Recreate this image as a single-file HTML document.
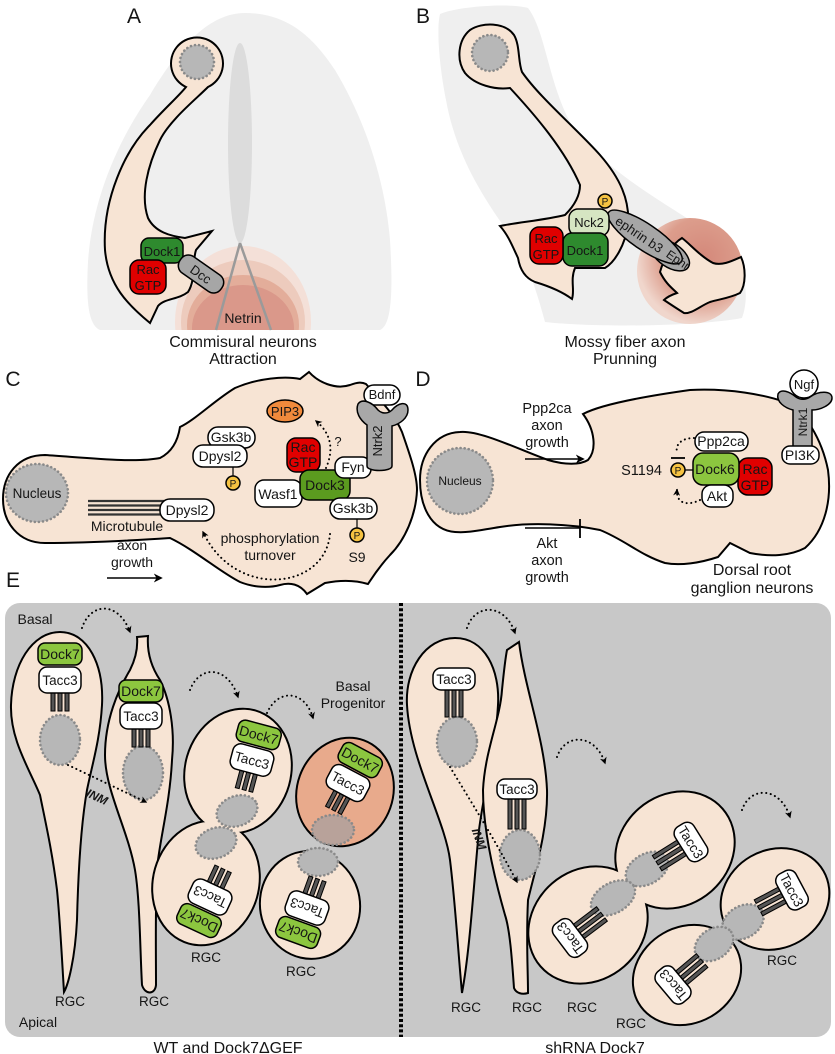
<!DOCTYPE html>
<html><head><meta charset="utf-8"><style>
html,body{margin:0;padding:0;background:#fff}
svg{display:block}
text{font-family:"Liberation Sans",Arial,sans-serif;text-anchor:middle;fill:#151515}
.cell{fill:#f7e4d4;stroke:#000;stroke-width:2}
.nuc{fill:#b7b7b7;stroke:#8a8a8a;stroke-width:2.6;stroke-dasharray:0.1 4;stroke-linecap:round}
.pb{stroke:#000;stroke-width:1.5}
.dot{fill:none;stroke:#000;stroke-width:2;stroke-dasharray:0.1 4.5;stroke-linecap:round}
.bar{fill:#555;stroke:#000;stroke-width:1}
</style></head><body>
<svg width="835" height="1054" viewBox="0 0 835 1054" xmlns="http://www.w3.org/2000/svg">
<defs>
<marker id="ah" viewBox="0 0 10 10" refX="8" refY="5" markerWidth="7" markerHeight="7" orient="auto" markerUnits="userSpaceOnUse">
<path d="M0,0 L10,5 L0,10 L3,5 Z" fill="#000"/></marker>
<marker id="ah2" viewBox="0 0 10 10" refX="8" refY="5" markerWidth="9" markerHeight="9" orient="auto" markerUnits="userSpaceOnUse">
<path d="M0,0 L10,5 L0,10 L3,5 Z" fill="#000"/></marker>
<clipPath id="clA"><rect x="80" y="180" width="330" height="150"/></clipPath>
<radialGradient id="gB" cx="0.62" cy="0.38" r="0.62">
<stop offset="0" stop-color="#d4887a"/><stop offset="0.62" stop-color="#dc9d8c"/><stop offset="1" stop-color="#f0d6cc"/></radialGradient>
</defs>
<rect width="835" height="1054" fill="#fff"/>

<!-- ================= PANEL A ================= -->
<text x="134" y="23" font-size="21">A</text>
<path d="M100,330 C88,325 86,300 88,262 C92,200 118,140 150,95 C180,45 210,13 245,13 C290,13 315,40 335,70 C365,120 385,180 390,240 C393,290 392,325 380,330 Z" fill="#efefef"/>
<ellipse cx="240" cy="143" rx="12" ry="100" fill="#dcdcdc"/>
<g clip-path="url(#clA)">
<ellipse cx="243" cy="322" rx="68" ry="76" fill="#f4e0d8"/>
<ellipse cx="243" cy="322" rx="62" ry="62" fill="#edcbbd"/>
<ellipse cx="243" cy="325" rx="56" ry="50" fill="#e3ad9a"/>
<ellipse cx="243" cy="328" rx="51" ry="43" fill="#da988a"/>
</g>
<line x1="240" y1="243" x2="216" y2="330" stroke="#9a9a9a" stroke-width="2.5"/>
<line x1="240" y1="243" x2="271" y2="330" stroke="#9a9a9a" stroke-width="2.5"/>
<text x="243" y="323" font-size="14">Netrin</text>
<path class="cell" d="M186,87 A26 26 0 1 1 208,87 C195,100 170,120 160,140 C148,165 140,195 148,218 C155,232 170,236 185,238 L212,231 L196,250 C192,262 196,280 188,292 C178,300 165,298 158,306 L150,323 C128,305 108,285 105,250 C102,200 125,150 150,125 C165,108 178,97 186,87 Z"/>
<circle class="nuc" cx="197" cy="62" r="17"/>
<rect class="pb" x="141" y="238" width="42" height="25" rx="8" fill="#2e8a2e"/>
<text x="162" y="256" font-size="13">Dock1</text>
<rect class="pb" x="130" y="260" width="36" height="34" rx="9" fill="#e00000"/>
<text x="148" y="274" font-size="13">Rac</text><text x="148" y="290" font-size="13">GTP</text>
<g transform="translate(201,274) rotate(35)">
<rect class="pb" x="-25" y="-10" width="50" height="20" rx="9" fill="#a6a6a6"/>
<text x="0" y="5" font-size="13">Dcc</text></g>
<text x="243" y="347" font-size="16">Commisural neurons</text>
<text x="243" y="364" font-size="16">Attraction</text>

<!-- ================= PANEL B ================= -->
<text x="423" y="23" font-size="21">B</text>
<path d="M440,14 C460,6 510,3 528,8 C545,30 548,80 570,122 C600,168 660,200 715,236 C742,256 752,290 742,318 C700,326 600,328 545,322 C535,285 525,255 505,228 C478,190 455,150 446,100 C440,70 436,30 440,14 Z" fill="#efefef"/>
<circle cx="690" cy="271" r="53" fill="url(#gB)"/>
<path class="cell" stroke-width="1.8" d="M660,272 C664,258 672,244 682,238 C690,244 700,256 713,263 C722,266 732,261 741,257 C746,268 746,285 740,293 C730,298 720,299 710,302 C700,306 692,314 684,313 C676,308 670,304 664,300 C668,296 674,294 677,293 C672,288 666,284 660,272 Z"/>
<path class="cell" d="M510,88 C495,90 475,85 465,73 C456,60 458,40 470,30 C482,22 505,22 514,35 C520,45 518,62 522,72 C540,98 578,130 600,155 C620,178 630,200 628,225 C625,245 615,262 605,268 L575,268 C570,280 575,290 572,299 C560,290 545,285 535,282 C525,278 520,270 518,258 C512,245 508,235 500,226 C520,222 545,220 565,215 C575,205 580,195 580,185 C565,150 535,115 510,88 Z"/>
<circle class="nuc" cx="490" cy="53" r="18"/>
<ellipse class="pb" cx="670" cy="255" rx="22" ry="12" transform="rotate(34 670 255)" fill="#a6a6a6"/>
<ellipse class="pb" cx="645" cy="237" rx="44" ry="13" transform="rotate(34 645 237)" fill="#a6a6a6"/>
<text x="639" y="239" font-size="13" transform="rotate(34 639 235)">ephrin b3</text>
<text x="678" y="264" font-size="12" transform="rotate(34 678 260)">Ephr</text>
<rect class="pb" x="569" y="209" width="40" height="27" rx="9" fill="#d6e5c2"/>
<text x="589" y="227" font-size="13">Nck2</text>
<circle class="pb" cx="605" cy="201" r="7" fill="#f5c242" stroke-width="1.2"/>
<text x="605" y="205" font-size="10">P</text>
<rect class="pb" x="563" y="233" width="45" height="33" rx="9" fill="#2e8a2e"/>
<text x="585" y="255" font-size="13">Dock1</text>
<rect class="pb" x="530" y="227" width="33" height="37" rx="9" fill="#e00000"/>
<text x="546" y="243" font-size="13">Rac</text><text x="546" y="259" font-size="13">GTP</text>
<text x="625" y="347" font-size="16">Mossy fiber axon</text>
<text x="625" y="364" font-size="16">Prunning</text>

<!-- ================= PANEL C ================= -->
<text x="13" y="386" font-size="21">C</text>
<path class="cell" d="M45,455 C90,458 135,463 160,458 C172,452 178,440 180,427 C195,420 215,400 235,388 C258,378 285,376 300,379 L309,372 C318,382 335,390 350,385 C358,382 362,382 366,384 C380,400 395,415 402,432 C410,455 417,475 417,490 C416,515 405,540 390,555 C378,568 372,578 368,584 C355,580 340,580 325,583 L307,594 C300,584 290,582 280,585 C265,589 250,586 240,582 C220,572 195,550 170,538 C140,540 90,543 45,543 C18,543 3,522 3,499 C3,475 18,455 45,455 Z"/>
<ellipse class="nuc" cx="37" cy="493" rx="31" ry="29"/>
<text x="37" y="498" font-size="13.5">Nucleus</text>
<g stroke="#333" stroke-width="2.2">
<line x1="88" y1="501" x2="168" y2="501"/><line x1="88" y1="505.5" x2="168" y2="505.5"/>
<line x1="88" y1="510" x2="168" y2="510"/><line x1="88" y1="514.5" x2="168" y2="514.5"/></g>
<rect class="pb" x="160" y="499" width="54" height="22" rx="10" fill="#fff"/>
<text x="187" y="515" font-size="14">Dpysl2</text>
<text x="127" y="531" font-size="14">Microtubule</text>
<text x="132" y="550" font-size="14">axon</text>
<text x="132" y="567" font-size="14">growth</text>
<line x1="107" y1="578" x2="161" y2="578" stroke="#000" stroke-width="1.6" marker-end="url(#ah2)"/>
<rect class="pb" x="208" y="427" width="47" height="21" rx="10" fill="#fff"/>
<text x="231" y="442" font-size="14">Gsk3b</text>
<rect class="pb" x="193" y="445" width="54" height="22" rx="10" fill="#fff"/>
<text x="220" y="461" font-size="14">Dpysl2</text>
<line x1="233" y1="467" x2="233" y2="477" stroke="#000" stroke-width="1.2"/>
<circle class="pb" cx="233" cy="483" r="7" fill="#f5c242" stroke-width="1.2"/>
<text x="233" y="487" font-size="10">P</text>
<ellipse class="pb" cx="285" cy="411" rx="18" ry="11" fill="#f08a3c"/>
<text x="285" y="416" font-size="13">PIP3</text>
<path class="dot" d="M326,468 C333,452 333,435 316,421" marker-end="url(#ah)"/>
<text x="338" y="446" font-size="13">?</text>
<rect class="pb" x="255" y="480" width="47" height="27" rx="9" fill="#fff"/>
<text x="278" y="499" font-size="14">Wasf1</text>
<rect class="pb" x="287" y="438" width="33" height="34" rx="9" fill="#e00000"/>
<text x="303" y="452" font-size="14">Rac</text><text x="303" y="467" font-size="14">GTP</text>
<rect class="pb" x="300" y="470" width="50" height="30" rx="9" fill="#5b9b1f"/>
<text x="325" y="490" font-size="14">Dock3</text>
<rect class="pb" x="335" y="457" width="36" height="21" rx="9" fill="#fff"/>
<text x="353" y="472" font-size="14">Fyn</text>
<rect class="pb" x="364" y="385" width="36" height="20" rx="10" fill="#fff"/>
<text x="382" y="399" font-size="13">Bdnf</text>
<path class="pb" fill="#a8a8a8" d="M367,466 L367,425 C360,420 355,412 358,404 C362,398 372,402 378,410 C382,414 388,414 392,410 C398,403 408,400 408,410 C408,418 400,424 392,426 L392,466 C392,472 367,472 367,466 Z"/>
<text x="384" y="447" font-size="13" transform="rotate(-90 380 445)">Ntrk2</text>
<rect class="pb" x="330" y="498" width="47" height="21" rx="10" fill="#fff"/>
<text x="353" y="513" font-size="14">Gsk3b</text>
<line x1="357" y1="519" x2="357" y2="528" stroke="#000" stroke-width="1.2"/>
<circle class="pb" cx="357" cy="535" r="7" fill="#f5c242" stroke-width="1.2"/>
<text x="357" y="539" font-size="10">P</text>
<text x="357" y="562" font-size="14">S9</text>
<text x="270" y="543" font-size="14">phosphorylation</text>
<text x="270" y="560" font-size="14">turnover</text>
<path class="dot" d="M330,534 C325,590 235,600 203,532" marker-end="url(#ah)"/>

<!-- ================= PANEL D ================= -->
<text x="423" y="386" font-size="21">D</text>
<path class="cell" d="M460,432 C480,430 520,450 548,460 C565,465 580,465 588,460 C597,450 595,430 583,414 C600,405 640,397 690,390 C730,388 765,395 785,402 C805,410 822,440 828,470 C832,500 825,530 805,548 C790,556 770,557 750,553 L730,543 L718,557 C700,563 680,566 665,563 C640,555 625,540 600,530 C570,524 530,522 500,527 C480,530 470,533 455,532 C430,530 420,505 420,480 C420,455 435,433 460,432 Z"/>
<circle class="nuc" cx="460" cy="481" r="33"/>
<text x="460" y="485" font-size="12">Nucleus</text>
<text x="547" y="413" font-size="14.5">Ppp2ca</text>
<text x="547" y="430" font-size="14.5">axon</text>
<text x="547" y="447" font-size="14.5">growth</text>
<line x1="525" y1="459" x2="583" y2="459" stroke="#000" stroke-width="1.6" marker-end="url(#ah2)"/>
<line x1="525" y1="528" x2="580" y2="528" stroke="#000" stroke-width="1.6"/>
<line x1="580" y1="519" x2="580" y2="538" stroke="#000" stroke-width="1.8"/>
<text x="547" y="548" font-size="14.5">Akt</text>
<text x="547" y="565" font-size="14.5">axon</text>
<text x="547" y="582" font-size="14.5">growth</text>
<text x="662" y="475" font-size="14.5" style="text-anchor:end">S1194</text>
<path class="dot" d="M694,438 C682,438 675,444 677,453"/>
<line x1="671" y1="458" x2="685" y2="458" stroke="#000" stroke-width="1.8"/>
<path class="dot" d="M700,500 C688,506 676,504 677,490" marker-end="url(#ah)"/>
<line x1="685" y1="470" x2="694" y2="470" stroke="#000" stroke-width="1.3"/>
<circle class="pb" cx="678" cy="470" r="7" fill="#f5c242" stroke-width="1.2"/>
<text x="678" y="474" font-size="10">P</text>
<rect class="pb" x="695" y="432" width="53" height="19" rx="9" fill="#fff"/>
<text x="721" y="446" font-size="14">Ppp2ca</text>
<rect class="pb" x="738" y="458" width="34" height="37" rx="10" fill="#e00000"/>
<text x="755" y="474" font-size="14">Rac</text><text x="755" y="490" font-size="14">GTP</text>
<rect class="pb" x="693" y="453" width="46" height="32" rx="10" fill="#8cc63f"/>
<text x="715" y="474" font-size="14">Dock6</text>
<rect class="pb" x="702" y="485" width="31" height="22" rx="9" fill="#fff"/>
<text x="717" y="501" font-size="14">Akt</text>
<circle class="pb" cx="804" cy="384" r="14" fill="#fff"/>
<text x="804" y="389" font-size="13">Ngf</text>
<path class="pb" fill="#a8a8a8" d="M793,448 L793,410 C785,408 776,402 778,394 C781,388 790,392 796,397 C800,400 806,400 810,397 C818,391 832,390 832,398 C832,405 820,410 812,410 L812,448 Z"/>
<text x="807" y="430" font-size="12" transform="rotate(-90 803 426)">Ntrk1</text>
<rect class="pb" x="782" y="446" width="37" height="18" rx="8" fill="#fff"/>
<text x="800" y="460" font-size="14">PI3K</text>
<text x="752" y="575" font-size="16">Dorsal root</text>
<text x="752" y="593" font-size="16">ganglion neurons</text>

<!-- ================= PANEL E ================= -->
<text x="13" y="587" font-size="21">E</text>
<rect x="5" y="603" width="826" height="434" rx="15" fill="#c8c8c8"/>
<line x1="401" y1="603" x2="401" y2="1037" stroke="#000" stroke-width="4" stroke-dasharray="3 2.2"/>
<text x="35" y="624" font-size="14">Basal</text>
<text x="38" y="1027" font-size="14">Apical</text>

<!-- left cell 1 -->
<path class="cell" d="M60,632 C88,632 104,665 102,705 C100,740 92,765 87,790 C80,830 78,880 77,920 C75,960 68,985 64,992 C62,960 60,920 57,890 C52,850 45,820 40,795 C30,770 10,740 11,705 C12,665 32,632 60,632 Z"/>
<ellipse class="nuc" cx="60" cy="740" rx="20" ry="25"/>
<g transform="translate(60,680)">
<g class="bar"><rect x="-9" y="13" width="4" height="18"/><rect x="-2" y="13" width="4" height="18"/><rect x="5" y="13" width="4" height="18"/></g>
<rect class="pb" x="-22" y="-37" width="44" height="22" rx="7" fill="#8cc63f"/><text x="0" y="-21" font-size="14">Dock7</text>
<rect class="pb" x="-21" y="-13" width="42" height="26" rx="8" fill="#fff"/><text x="0" y="5" font-size="13.5">Tacc3</text></g>

<!-- left cell 2 -->
<path class="cell" d="M137,637 L148,636 C147,650 150,665 160,680 C170,700 175,730 172,760 C170,800 162,830 158,860 C155,900 156,950 156,985 C155,995 145,995 142,985 C140,950 140,900 135,870 C128,830 105,790 105,755 C105,720 118,690 130,670 C136,658 138,648 137,637 Z"/>
<ellipse class="nuc" cx="143" cy="773" rx="20" ry="27"/>
<g transform="translate(141,716)">
<g class="bar"><rect x="-9" y="13" width="4" height="18"/><rect x="-2" y="13" width="4" height="18"/><rect x="5" y="13" width="4" height="18"/></g>
<rect class="pb" x="-22" y="-36" width="44" height="22" rx="7" fill="#8cc63f"/><text x="0" y="-20" font-size="14">Dock7</text>
<rect class="pb" x="-21" y="-13" width="42" height="26" rx="8" fill="#fff"/><text x="0" y="5" font-size="13.5">Tacc3</text></g>
<path class="dot" d="M68,765 L146,802" marker-end="url(#ah)"/>
<text x="97" y="801" font-size="12" font-weight="bold" font-style="italic" transform="rotate(25 97 797)">INM</text>
<path class="dot" d="M82,628 C90,603 118,600 130,632" marker-end="url(#ah)"/>

<!-- left dividing cell -->
<ellipse cx="238" cy="771" rx="52" ry="62" transform="rotate(16 238 771)" fill="none" stroke="#000" stroke-width="4"/>
<ellipse cx="206" cy="883" rx="52" ry="62" transform="rotate(16 206 883)" fill="none" stroke="#000" stroke-width="4"/>
<ellipse cx="238" cy="771" rx="52" ry="62" transform="rotate(16 238 771)" fill="#f7e4d4"/>
<ellipse cx="206" cy="883" rx="52" ry="62" transform="rotate(16 206 883)" fill="#f7e4d4"/>
<ellipse class="nuc" cx="237" cy="811" rx="21" ry="15" transform="rotate(-20 237 811)"/>
<ellipse class="nuc" cx="216" cy="843" rx="21" ry="15" transform="rotate(-20 216 843)"/>
<g transform="translate(252,760) rotate(15)">
<g class="bar"><rect x="-9" y="13" width="4" height="18"/><rect x="-2" y="13" width="4" height="18"/><rect x="5" y="13" width="4" height="18"/></g>
<rect class="pb" x="-22" y="-37" width="44" height="22" rx="7" fill="#8cc63f"/><text x="0" y="-21" font-size="14">Dock7</text>
<rect class="pb" x="-21" y="-13" width="42" height="26" rx="8" fill="#fff"/><text x="0" y="5" font-size="13.5">Tacc3</text></g>
<g transform="translate(210,897) rotate(205)">
<g class="bar"><rect x="-9" y="13" width="4" height="18"/><rect x="-2" y="13" width="4" height="18"/><rect x="5" y="13" width="4" height="18"/></g>
<rect class="pb" x="-22" y="-37" width="44" height="22" rx="7" fill="#8cc63f"/><text x="0" y="-21" font-size="14">Dock7</text>
<rect class="pb" x="-21" y="-13" width="42" height="26" rx="8" fill="#fff"/><text x="0" y="5" font-size="13.5">Tacc3</text></g>
<path class="dot" d="M190,690 C200,664 228,666 238,697" marker-end="url(#ah)"/>
<path class="dot" d="M267,713 C278,688 305,690 313,718" marker-end="url(#ah)"/>
<text x="353" y="691" font-size="14">Basal</text>
<text x="353" y="708" font-size="14">Progenitor</text>

<!-- basal progenitor -->
<ellipse cx="345" cy="792" rx="48" ry="55" transform="rotate(20 345 792)" fill="#e8aa8c" stroke="#000" stroke-width="2"/>
<ellipse class="nuc" cx="333" cy="830" rx="21" ry="15" style="fill:#b8a29a"/>
<g transform="translate(348,783) rotate(28)">
<g class="bar"><rect x="-9" y="13" width="4" height="18"/><rect x="-2" y="13" width="4" height="18"/><rect x="5" y="13" width="4" height="18"/></g>
<rect class="pb" x="-22" y="-37" width="44" height="22" rx="7" fill="#8cc63f"/><text x="0" y="-21" font-size="14">Dock7</text>
<rect class="pb" x="-21" y="-13" width="42" height="26" rx="8" fill="#fff"/><text x="0" y="5" font-size="13.5">Tacc3</text></g>

<!-- cell 5 -->
<ellipse class="cell" cx="310" cy="905" rx="50" ry="54" transform="rotate(-10 310 905)"/>
<ellipse class="nuc" cx="318" cy="862" rx="20" ry="14"/>
<g transform="translate(307,908) rotate(200)">
<g class="bar"><rect x="-9" y="13" width="4" height="18"/><rect x="-2" y="13" width="4" height="18"/><rect x="5" y="13" width="4" height="18"/></g>
<rect class="pb" x="-22" y="-37" width="44" height="22" rx="7" fill="#8cc63f"/><text x="0" y="-21" font-size="14">Dock7</text>
<rect class="pb" x="-21" y="-13" width="42" height="26" rx="8" fill="#fff"/><text x="0" y="5" font-size="13.5">Tacc3</text></g>

<text x="70" y="1006" font-size="13.5">RGC</text>
<text x="154" y="1006" font-size="13.5">RGC</text>
<text x="206" y="962" font-size="13.5">RGC</text>
<text x="301" y="976" font-size="13.5">RGC</text>
<text x="228" y="1053" font-size="16">WT and Dock7ΔGEF</text>

<!-- right cell A -->
<path class="cell" d="M455,638 C485,638 500,670 498,705 C496,745 484,790 479,830 C474,880 470,950 462,993 C458,950 455,900 450,860 C445,820 410,760 407,705 C405,670 425,638 455,638 Z"/>
<ellipse class="nuc" cx="457" cy="742" rx="20" ry="25"/>
<g transform="translate(454,679)">
<g class="bar"><rect x="-9" y="11" width="4" height="27"/><rect x="-2" y="11" width="4" height="27"/><rect x="5" y="11" width="4" height="27"/></g>
<rect class="pb" x="-21" y="-11" width="42" height="22" rx="8" fill="#fff"/><text x="0" y="5" font-size="13.5">Tacc3</text></g>

<!-- right cell B -->
<path class="cell" d="M507,650 L519,642 C525,690 545,740 547,790 C548,830 535,870 528,900 C526,940 528,970 528,993 C522,995 516,993 514,988 C512,960 510,930 505,915 C495,880 483,830 483,790 C485,750 500,720 502,690 C504,670 505,660 507,650 Z"/>
<ellipse class="nuc" cx="520" cy="855" rx="20" ry="25"/>
<g transform="translate(517,789)">
<g class="bar"><rect x="-9" y="10" width="4" height="30"/><rect x="-2" y="10" width="4" height="30"/><rect x="5" y="10" width="4" height="30"/></g>
<rect class="pb" x="-20" y="-10" width="40" height="20" rx="8" fill="#fff"/><text x="0" y="5" font-size="13.5">Tacc3</text></g>
<path class="dot" d="M450,767 C470,800 495,840 517,882" marker-end="url(#ah)"/>
<text x="479" y="843" font-size="12" font-weight="bold" font-style="italic" transform="rotate(70 479 839)">INM</text>
<path class="dot" d="M467,628 C475,603 505,603 515,633" marker-end="url(#ah)"/>
<path class="dot" d="M557,757 C565,733 595,733 605,763" marker-end="url(#ah)"/>
<path class="dot" d="M742,810 C750,786 780,786 790,817" marker-end="url(#ah)"/>

<!-- right dividing cell -->
<ellipse cx="588" cy="925" rx="62" ry="54" transform="rotate(-41 588 925)" fill="none" stroke="#000" stroke-width="4"/>
<ellipse cx="675" cy="850" rx="62" ry="54" transform="rotate(-41 675 850)" fill="none" stroke="#000" stroke-width="4"/>
<ellipse cx="588" cy="925" rx="62" ry="54" transform="rotate(-41 588 925)" fill="#f7e4d4"/>
<ellipse cx="675" cy="850" rx="62" ry="54" transform="rotate(-41 675 850)" fill="#f7e4d4"/>
<ellipse class="nuc" cx="647" cy="869" rx="23" ry="15" transform="rotate(-30 647 869)"/>
<ellipse class="nuc" cx="613" cy="898" rx="24" ry="15" transform="rotate(-30 613 898)"/>
<g transform="translate(691,842) rotate(58)">
<g class="bar"><rect x="-9" y="10" width="4" height="30"/><rect x="-2" y="10" width="4" height="30"/><rect x="5" y="10" width="4" height="30"/></g>
<rect class="pb" x="-20" y="-11" width="40" height="22" rx="8" fill="#fff"/><text x="0" y="5" font-size="13.5">Tacc3</text></g>
<g transform="translate(570,938) rotate(233)">
<g class="bar"><rect x="-9" y="10" width="4" height="30"/><rect x="-2" y="10" width="4" height="30"/><rect x="5" y="10" width="4" height="30"/></g>
<rect class="pb" x="-20" y="-11" width="40" height="22" rx="8" fill="#fff"/><text x="0" y="5" font-size="13.5">Tacc3</text></g>

<!-- right cell D -->
<ellipse class="cell" cx="775" cy="899" rx="56" ry="49" transform="rotate(-30 775 899)"/>
<ellipse class="nuc" cx="743" cy="922" rx="22" ry="16" transform="rotate(-30 743 922)"/>
<g transform="translate(792,890) rotate(62)">
<g class="bar"><rect x="-9" y="10" width="4" height="28"/><rect x="-2" y="10" width="4" height="28"/><rect x="5" y="10" width="4" height="28"/></g>
<rect class="pb" x="-20" y="-11" width="40" height="22" rx="8" fill="#fff"/><text x="0" y="5" font-size="13.5">Tacc3</text></g>

<!-- right cell C -->
<ellipse class="cell" cx="687" cy="975" rx="56" ry="48" transform="rotate(-30 687 975)"/>
<ellipse class="nuc" cx="714" cy="944" rx="21" ry="15" transform="rotate(-35 714 944)"/>
<g transform="translate(673,985) rotate(230)">
<g class="bar"><rect x="-9" y="10" width="4" height="28"/><rect x="-2" y="10" width="4" height="28"/><rect x="5" y="10" width="4" height="28"/></g>
<rect class="pb" x="-20" y="-11" width="40" height="22" rx="8" fill="#fff"/><text x="0" y="5" font-size="13.5">Tacc3</text></g>

<text x="466" y="1012" font-size="13.5">RGC</text>
<text x="527" y="1012" font-size="13.5">RGC</text>
<text x="582" y="1012" font-size="13.5">RGC</text>
<text x="631" y="1028" font-size="13.5">RGC</text>
<text x="782" y="965" font-size="13.5">RGC</text>
<text x="595" y="1053" font-size="16">shRNA Dock7</text>
</svg>
</body></html>
